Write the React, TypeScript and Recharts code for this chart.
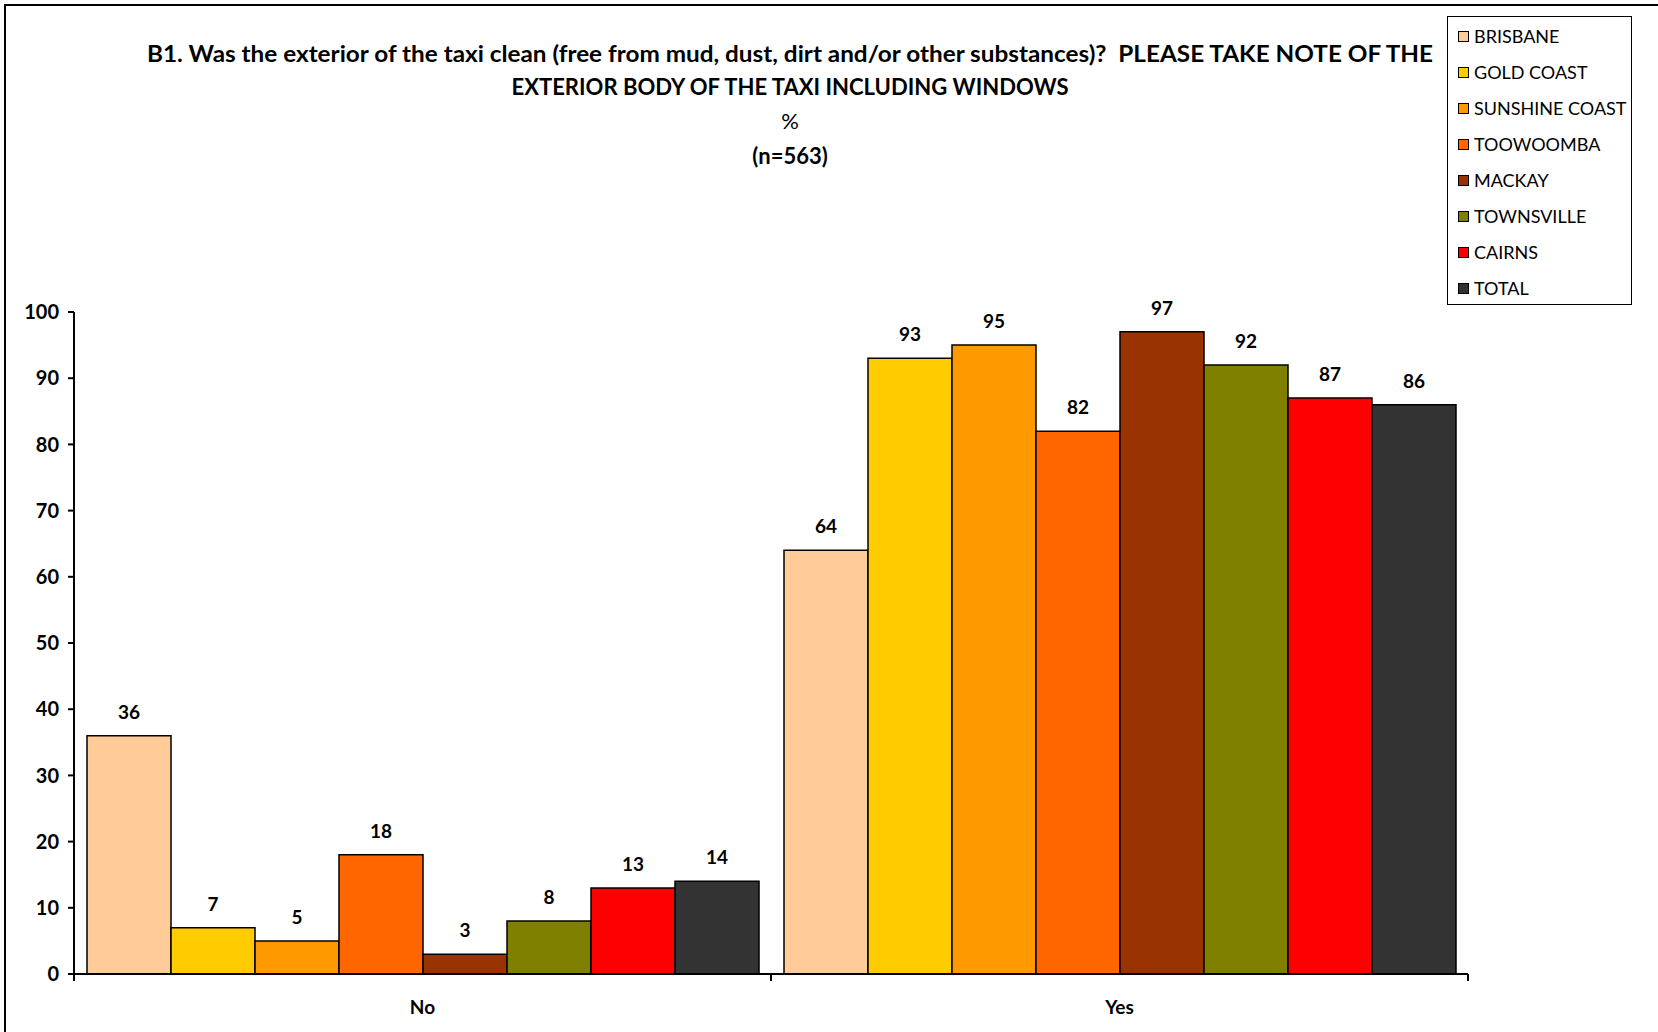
import React from "react";
import {
  BarChart,
  Bar,
  XAxis,
  YAxis,
  Legend,
  LabelList,
} from "recharts";

const categories = ["No", "Yes"];
const regions = [
  "BRISBANE",
  "GOLD COAST",
  "SUNSHINE COAST",
  "TOOWOOMBA",
  "MACKAY",
  "TOWNSVILLE",
  "CAIRNS",
  "TOTAL",
];
const noValues = [36, 7, 5, 18, 3, 8, 13, 14];
const yesValues = [64, 93, 95, 82, 97, 92, 87, 86];
const colors = [
  "#FFCC99",
  "#FFCC00",
  "#FF9900",
  "#FF6600",
  "#993300",
  "#808000",
  "#FF0000",
  "#333333",
];
const yTicks = [0, 10, 20, 30, 40, 50, 60, 70, 80, 90, 100];

const titleLines = [
  "B1. Was the exterior of the taxi clean (free from mud, dust, dirt and/or other substances)?\u00A0 PLEASE TAKE NOTE OF THE",
  "EXTERIOR BODY OF THE TAXI INCLUDING WINDOWS",
  "%",
  "(n=563)",
];

const seriesByCategory = [noValues, yesValues];
const data = categories.map((name, i) => {
  const row: any = { name };
  regions.forEach((r, j) => (row[r] = seriesByCategory[i][j]));
  return row;
});

const W = 1658;
const H = 1032;
const margin = { top: 312, right: 190, bottom: 0, left: 14 };
const FONT = "Lato, 'Open Sans', sans-serif";

const plotLeft = 74;
const plotRight = W - margin.right;
const halfBand = (plotRight - plotLeft) / categories.length / 2;

const titleWidths = [1286, 557, undefined, undefined];
const titleY = [62, 95, 129, 164];

const XTick = (props: any) => {
  const { x, y, payload } = props;
  return (
    <g>
      <line x1={x - halfBand} x2={x - halfBand} y1={y} y2={y + 7} stroke="#000" strokeWidth={2} />
      <line x1={x + halfBand} x2={x + halfBand} y1={y} y2={y + 7} stroke="#000" strokeWidth={2} />
      <text
        x={x}
        y={y + 40}
        textAnchor="middle"
        fontFamily={FONT}
        fontWeight={700}
        fontSize={19}
        fill="#000"
      >
        {payload.value}
      </text>
    </g>
  );
};

const LegendBox = () => (
  <div
    style={{
      border: "1.5px solid #000",
      width: 185,
      height: 289,
      boxSizing: "border-box",
      background: "#fff",
      paddingTop: 1,
      fontFamily: FONT,
    }}
  >
    {regions.map((r, i) => (
      <div
        key={r}
        style={{
          height: 36,
          display: "flex",
          alignItems: "center",
          paddingLeft: 10,
          fontSize: 18,
          color: "#000",
          whiteSpace: "nowrap",
        }}
      >
        <span
          style={{
            display: "inline-block",
            width: 9,
            height: 9,
            background: colors[i],
            border: "1.5px solid #000",
            marginRight: 5,
          }}
        />
        {r}
      </div>
    ))}
  </div>
);

export default function App() {
  return (
    <div
      style={{
        position: "absolute",
        left: 0,
        top: 0,
        width: W,
        height: H,
        background: "#fff",
        overflow: "hidden",
      }}
    >
      <div
        style={{
          position: "absolute",
          left: 4,
          top: 4,
          width: W,
          height: H,
          borderLeft: "2px solid #000",
          borderTop: "2px solid #000",
        }}
      />
      <svg
        width={W}
        height={200}
        style={{ position: "absolute", left: 0, top: 0 }}
      >
        {titleLines.map((t, i) => (
          <text
            key={i}
            x={790}
            y={titleY[i]}
            textAnchor="middle"
            fontFamily={FONT}
            fontWeight={i === 2 ? 400 : 700}
            fontSize={22}
            fill="#000"
            textLength={titleWidths[i]}
            lengthAdjust="spacingAndGlyphs"
          >
            {t}
          </text>
        ))}
      </svg>
      <div style={{ position: "absolute", left: 0, top: 0 }}>
        <BarChart
          width={W}
          height={H}
          data={data}
          margin={margin}
          barCategoryGap={13}
          barGap={0}
        >
          <XAxis
            dataKey="name"
            height={58}
            tickLine={false}
            tickSize={0}
            tickMargin={0}
            axisLine={{ stroke: "#000", strokeWidth: 2 }}
            tick={<XTick />}
            interval={0}
          />
          <YAxis
            domain={[0, 100]}
            ticks={yTicks}
            width={60}
            tickSize={6}
            tickMargin={9}
            axisLine={{ stroke: "#000", strokeWidth: 2 }}
            tickLine={{ stroke: "#000", strokeWidth: 2 }}
            tick={{
              fill: "#000",
              fontFamily: FONT,
              fontWeight: 700,
              fontSize: 20,
            }}
          />
          <Legend
            layout="vertical"
            align="center"
            verticalAlign="middle"
            content={<LegendBox />}
            wrapperStyle={{ position: "absolute", left: 1447, top: 16, width: 185, height: 289 }}
          />
          {regions.map((r, i) => (
            <Bar
              key={r}
              dataKey={r}
              fill={colors[i]}
              stroke="#000"
              strokeWidth={1.5}
              isAnimationActive={false}
            >
              <LabelList
                dataKey={r}
                position="top"
                offset={17}
                fill="#000"
                fontFamily={FONT}
                fontWeight={700}
                fontSize={19}
              />
            </Bar>
          ))}
        </BarChart>
      </div>
    </div>
  );
}
